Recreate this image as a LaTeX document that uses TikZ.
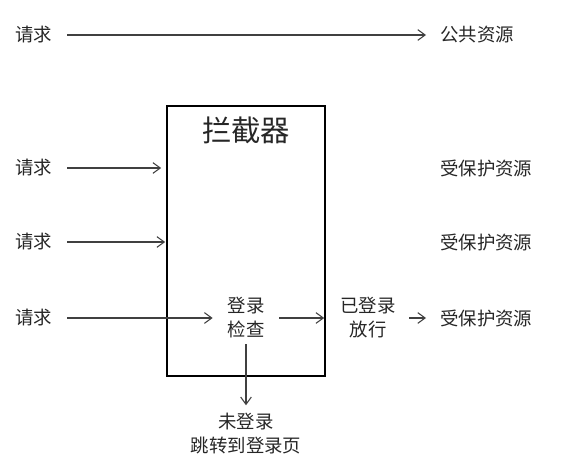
\documentclass[tikz,border=0pt]{standalone}
\usepackage{fontspec}
\newfontfamily\cjk{Noto Sans CJK SC}
\usepackage{xcolor}
\usetikzlibrary{arrows.meta,positioning}

\begin{document}
\begin{tikzpicture}[x=0.75pt, y=-0.75pt, every node/.style={font=\cjk\fontsize{13.8}{18}\selectfont, text=black!85},
  req/.style={inner xsep=11pt, inner ysep=2pt},
  res/.style={anchor=west, inner xsep=10.5pt, inner ysep=2pt},
  flow/.style={-{Straight Barb[length=5.5pt,width=8pt]}, black!75, line width=0.8pt}]
\useasboundingbox (0,0) rectangle (574,460);
\node[req] (req0) at (34,35) {请求};
\node[res] (pub) at (426,35) {公共资源};
\draw[flow] (req0)--(pub);
\node[draw, line width=0.8pt, minimum width=118.5pt, minimum height=202.5pt] (filter) at (246,241) {};
\node[font=\cjk\fontsize{22}{24}\selectfont] (title) at (246,130) {拦截器};
\node[req] (req1) at (34,168) {请求};
\node[req] (req2) at (34,242) {请求};
\node[req] (req3) at (34,318) {请求};
\node[res] (prot1) at (426,168) {受保护资源};
\node[res] (prot2) at (426,242) {受保护资源};
\node[res] (prot3) at (426,318) {受保护资源};
\node[req, align=center, inner ysep=4pt] (check) at (246,318) {登录\\检查};
\node[align=center, inner xsep=10pt] (pass) at (368,318) {已登录\\放行};
\node[align=center, inner ysep=6pt] (fail) at (246,434) {未登录\\跳转到登录页};
\draw[flow, shorten >=4pt] (req1)--(req1 -| filter.west);
\draw[flow, shorten >=1pt] (req2)--(req2 -| filter.west);
\draw[flow] (req3)--(check);
\draw[flow, shorten >=1pt] (check)--(check -| filter.east);
\draw[flow] (pass)--(prot3);
\draw[flow] (check)--(fail);
\end{tikzpicture}
\end{document}
